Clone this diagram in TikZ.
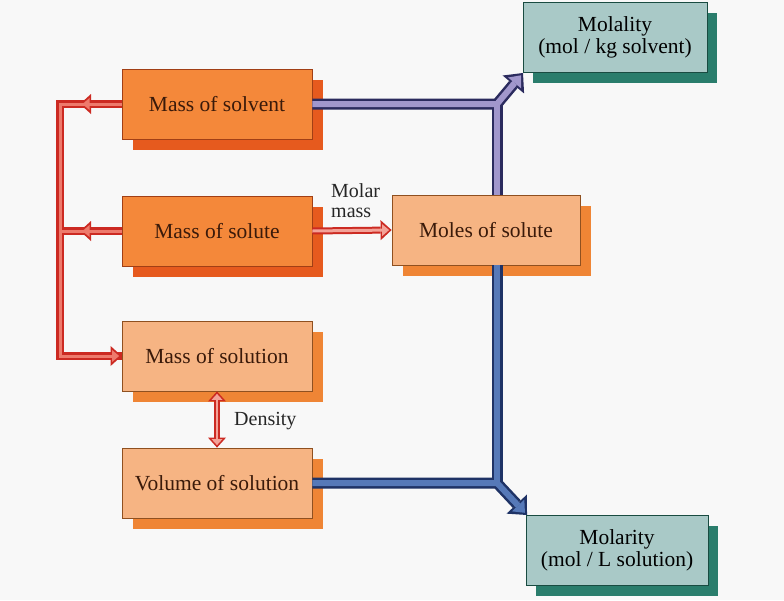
\documentclass[tikz,border=0pt]{standalone}
\usepackage{fontspec}
\setmainfont{Liberation Serif}
\usetikzlibrary{arrows.meta,shadows}
\definecolor{bg}{HTML}{F8F8F8}
\definecolor{darkfront}{HTML}{F4883A}
\definecolor{darkshadow}{HTML}{E65A1E}
\definecolor{lightfront}{HTML}{F6B483}
\definecolor{lightshadow}{HTML}{EF8535}
\definecolor{tealfront}{HTML}{A9C9C7}
\definecolor{tealshadow}{HTML}{2A7D6C}
\definecolor{redout}{HTML}{CC2A22}
\definecolor{redin}{HTML}{EE7A6C}
\definecolor{purpout}{HTML}{2B2B5E}
\definecolor{purpin}{HTML}{A197CC}
\definecolor{blueout}{HTML}{1F3366}
\definecolor{bluein}{HTML}{5679B8}
\definecolor{txtbrown}{HTML}{3A1A0A}
\begin{document}
\begin{tikzpicture}[x=1pt,y=-1pt,
  boxbase/.style={rectangle, inner sep=0pt, minimum width=190pt, minimum height=70pt,
    font=\fontsize{21.5}{22}\selectfont, align=center, line width=0.8pt},
  darkbox/.style={boxbase, fill=darkfront, draw=darkshadow!70!black, text=txtbrown,
    general shadow={fill=darkshadow, shadow xshift=11pt, shadow yshift=-11pt}},
  lightbox/.style={boxbase, fill=lightfront, draw=lightshadow!60!black, text=txtbrown,
    general shadow={fill=lightshadow, shadow xshift=11pt, shadow yshift=-11pt}},
  tealbox/.style={boxbase, minimum width=184pt, fill=tealfront, draw=tealshadow!60!black, text=black,
    general shadow={fill=tealshadow, shadow xshift=10pt, shadow yshift=-11pt}},
  label/.style={font=\fontsize{20}{20}\selectfont, text=black!85, inner sep=0pt, align=left},
  outR/.style={draw=redout, line width=8pt, line join=miter},
  inR/.style={draw=redin, line width=3pt, line join=miter},
  outP/.style={draw=purpout, line width=11pt, line join=miter},
  inP/.style={draw=purpin, line width=6pt, line join=miter},
  outB/.style={draw=blueout, line width=11pt, line join=miter},
  inB/.style={draw=bluein, line width=6pt, line join=miter},
  tipRo/.style={-{Triangle[length=11pt,width=20pt,line width=0pt]}},
  tipRi/.style={-{Triangle[length=7pt,width=12pt,line width=0pt]}, shorten >=2.5pt},
  tipRRo/.style={{Triangle[length=10pt,width=18pt,line width=0pt]}-{Triangle[length=10pt,width=18pt,line width=0pt]}},
  tipRRi/.style={{Triangle[length=6pt,width=11pt,line width=0pt]}-{Triangle[length=6pt,width=11pt,line width=0pt]}, shorten >=2.5pt, shorten <=2.5pt},
  tipBo/.style={-{Triangle[length=15pt,width=28pt,line width=0pt]}},
  tipBi/.style={-{Triangle[length=10pt,width=17pt,line width=0pt]}, shorten >=3pt},
]
\fill[bg] (0,0) rectangle (784,600);
\useasboundingbox (0,0) rectangle (784,600);

% boxes
\node[darkbox]  (solvent)  at (217,104) {Mass of solvent};
\node[darkbox]  (solute)   at (217,231) {Mass of solute};
\node[lightbox, minimum width=188pt] (moles) at (486,230) {Moles of solute};
\node[lightbox] (solution) at (217,356) {Mass of solution};
\node[lightbox] (volume)   at (217,483) {Volume of solution};
\node[tealbox]  (molality) at (615,37)  {Molality\\(mol / kg solvent)};
\node[tealbox, minimum width=182pt] (molarity) at (617,550) {Molarity\\(mol / L solution)};

% coordinates
\coordinate (r1) at (60,104);
\coordinate (r2) at (60,231);
\coordinate (r3) at (60,356);
\coordinate (a1) at (80,104);
\coordinate (a2) at (80,231);
\coordinate (p1) at (497,104);
\coordinate (p2) at (523,73);
\coordinate (b1) at (497,483);
\coordinate (b2) at (527,515);

% red arrows (outer)
\draw[outR] (solvent.west) -- (r1) -- (r3) -- (solution.west);
\draw[outR] (solute.west) -- (r2);
\draw[outR, tipRo] (solvent.west) -- (a1);
\draw[outR, tipRo] (solute.west) -- (a2);
\draw[outR, tipRo] (r3) -- (solution.west);
\draw[outR, line width=7pt, tipRo] (solute.east) -- (moles.west);
\draw[outR, line width=6pt, tipRRo] (solution.south) -- (volume.north);
% red arrows (inner)
\draw[inR] (solvent.west) -- (r1) -- (r3) -- ([xshift=-8pt]solution.west);
\draw[inR] (solute.west) -- (r2);
\draw[inR, tipRi] (solvent.west) -- (a1);
\draw[inR, tipRi] (solute.west) -- (a2);
\draw[inR, tipRi] (r3) -- (solution.west);
\draw[inR, draw=redin!70!white, line width=3pt, tipRi] (solute.east) -- (moles.west);
\draw[inR, draw=redin!70!white, line width=2pt, tipRRi] (solution.south) -- (volume.north);

% purple (molality)
\draw[outP] (moles.north -| p1) -- (p1);
\draw[outP, tipBo] (solvent.east) -- (p1) -- (p2);
\draw[inP] (moles.north -| p1) -- (p1);
\draw[inP, tipBi] (solvent.east) -- (p1) -- (p2);

% blue (molarity)
\draw[outB] (moles.south -| b1) -- (b1);
\draw[outB, tipBo] (volume.east) -- (b1) -- (b2);
\draw[inB] (moles.south -| b1) -- (b1);
\draw[inB, tipBi] (volume.east) -- (b1) -- (b2);

% labels
\node[label, anchor=west] (molarmass) at (331,201) {Molar\\mass};
\node[label, anchor=west] (density) at (234,421) {Density};
\end{tikzpicture}
\end{document}
